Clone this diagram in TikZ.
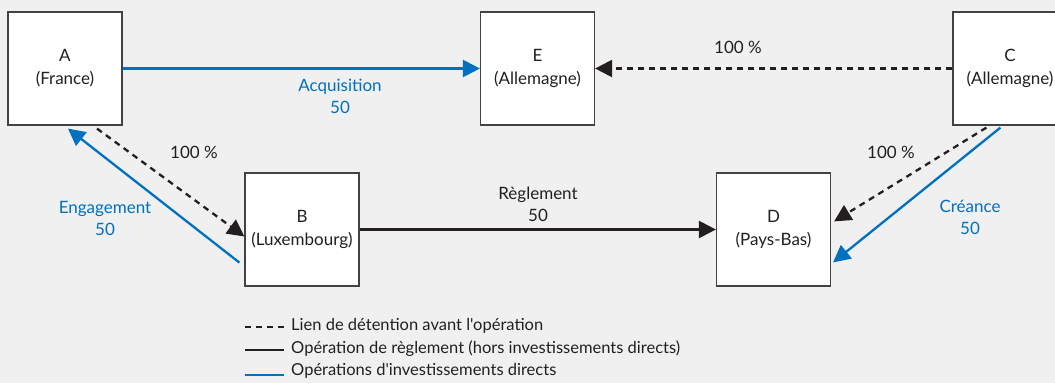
\documentclass[tikz,border=0pt]{standalone}
\usepackage{fontspec}
\setmainfont{Lato}[Ligatures=TeXOff]
\usetikzlibrary{arrows.meta}
\definecolor{bg}{RGB}{240,240,240}
\definecolor{ink}{RGB}{35,31,32}
\definecolor{bleu}{RGB}{0,112,192}
\tikzset{
  tip/.style={-{Triangle[length=17pt,width=17pt]}},
  entity/.style={draw=ink!85, line width=1.2pt, fill=white, minimum width=114pt, minimum height=113pt, inner sep=0pt, align=center, font=\fontsize{17}{23}\selectfont, text=ink},
  holding/.style={draw=ink, line width=2.3pt, dash pattern=on 6pt off 5pt, tip},
  settle/.style={draw=ink, line width=2.3pt, tip},
  invest/.style={draw=bleu, line width=2.3pt, tip},
  lbl/.style={font=\fontsize{17}{22}\selectfont, align=center, text=ink, inner sep=0pt},
  blbl/.style={lbl, text=bleu},
  leg/.style={font=\fontsize{16.5}{18}\selectfont, text=ink, anchor=west, inner sep=0pt}
}
\begin{document}
\begin{tikzpicture}[x=1pt,y=-1pt]
\useasboundingbox (0,0) rectangle (1055,383);
\fill[bg] (0,0) rectangle (1055,383);
\begin{scope}
\clip (0,0) rectangle (1055,383);
\node[entity] (A) at (65,68.5) {A\\(France)};
\node[entity] (E) at (537.5,68.5) {E\\(Allemagne)};
\node[entity] (C) at (1010,68.5) {C\\(Allemagne)};
\node[entity] (B) at (302,229.5) {B\\(Luxembourg)};
\node[entity] (D) at (773.5,229.5) {D\\(Pays-Bas)};
\end{scope}
% connectors
\draw[invest] (A.east) -- (E.west);
\draw[holding] (C.west) -- (E.east);
\draw[holding] ([xshift=32pt,yshift=-3pt]A.south) -- ([yshift=-7pt]B.west);
\draw[invest] ([xshift=-5pt,yshift=24pt]B.south west) -- ([xshift=3pt,yshift=-3pt]A.south);
\draw[settle] (B.east) -- (D.west);
\draw[holding] ([xshift=34pt,yshift=-2pt]C.south west) -- ([xshift=3pt,yshift=-49pt]D.north east);
\draw[invest] ([xshift=48pt,yshift=-2pt]C.south west) -- ([xshift=2pt,yshift=-90pt]D.north east);
% labels
\node[blbl] (l1) at (340,96) {Acquisition\\50};
\node[lbl] (l2) at (738,47) {100 \%};
\node[lbl] (l3) at (194,152) {100 \%};
\node[blbl] (l4) at (105,218) {Engagement\\50};
\node[lbl] (l5) at (538,204) {Règlement\\50};
\node[lbl] (l6) at (891,152) {100 \%};
\node[blbl] (l7) at (970,217) {Créance\\50};
% legend
\coordinate (g1a) at (245,327); \coordinate (g1b) at (284,327);
\coordinate (g2a) at (245,350); \coordinate (g2b) at (284,350);
\coordinate (g3a) at (245,375); \coordinate (g3b) at (284,375);
\draw[ink, line width=2pt, dash pattern=on 6pt off 5pt] (g1a) -- (g1b);
\draw[ink, line width=2.3pt] (g2a) -- (g2b);
\draw[bleu, line width=2.3pt] (g3a) -- (g3b);
\node[leg] (t1) at (291,326) {Lien de détention avant l'opération};
\node[leg] (t2) at (291,349) {Opération de règlement (hors investissements directs)};
\node[leg] (t3) at (291,371) {Opérations d'investissements directs};
\end{tikzpicture}
\end{document}
